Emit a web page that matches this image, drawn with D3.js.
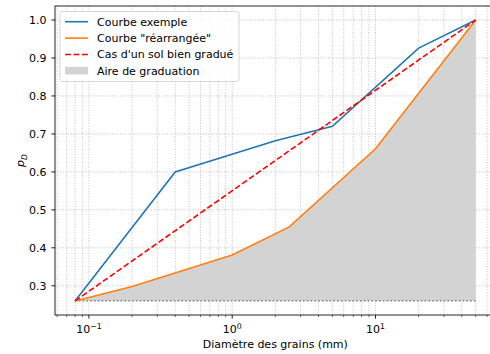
<!DOCTYPE html>
<head>
    <meta charset="utf-8">
    <style>
        body { margin: 0; background: #fff; }
        text { font-family: "DejaVu Sans", sans-serif; font-size: 11px; fill: #000; }
        .grid line { stroke: #b0b0b0; stroke-width: 0.8; stroke-dasharray: 1,1.6; }
    </style>
</head>
<body>
    <svg width="490" height="354"></svg>
    <script src="https://d3js.org/d3.v7.min.js"></script>
    <script>

    // courbe exemple
    var exempleD = [0.08, 0.4, 2, 5, 20, 50];
    var exempleP = [0.26, 0.6, 0.682, 0.72, 0.926, 1.0];
    // courbe rearrangee
    var rearrD = [0.08, 0.2, 1, 2.5, 10, 50];
    var rearrP = [0.26, 0.298, 0.381, 0.455, 0.661, 1.0];
    // sol bien gradue
    var bienD = [0.08, 50];
    var bienP = [0.26, 1.0];
    var yTicks = [0.3, 0.4, 0.5, 0.6, 0.7, 0.8, 0.9, 1.0];
    var xMajor = [0.1, 1, 10];
    var xMajorExp = ["\u22121", "0", "1"];
    var legendLabels = ["Courbe exemple", "Courbe \"réarrangée\"", "Cas d'un sol bien gradué", "Aire de graduation"];

    var svg = d3.select("svg");
    var pl = 55, pr = 495.7, pt = 6, pb = 315;

    var lo = Math.log10(0.08), hi = Math.log10(50), m = (hi - lo) * 0.05;
    var x = d3.scaleLog().domain([Math.pow(10, lo - m), Math.pow(10, hi + m)]).range([pl, pr]);
    var ylo = 0.26, yhi = 1.0, ym = (yhi - ylo) * 0.05;
    var y = d3.scaleLinear().domain([ylo - ym, yhi + ym]).range([pb, pt]);

    var xMinor = [];
    [0.01, 0.1, 1, 10].forEach(function(p) {
        for (var k = 2; k <= 9; k++) {
            var v = k * p;
            if (v >= x.domain()[0] && v <= x.domain()[1]) xMinor.push(v);
        }
    });

    svg.append("clipPath").attr("id", "clip")
        .append("rect").attr("x", pl).attr("y", pt).attr("width", pr - pl).attr("height", pb - pt);

    var plot = svg.append("g").attr("clip-path", "url(#clip)");

    // grille
    var grid = plot.append("g").attr("class", "grid");
    grid.selectAll(".gx").data(xMajor.concat(xMinor)).enter().append("line")
        .attr("x1", function(d) { return x(d); }).attr("x2", function(d) { return x(d); })
        .attr("y1", pt).attr("y2", pb);
    grid.selectAll(".gy").data(yTicks).enter().append("line")
        .attr("x1", pl).attr("x2", pr)
        .attr("y1", function(d) { return y(d); }).attr("y2", function(d) { return y(d); });

    // aire de graduation
    var rearr = rearrD.map(function(d, i) { return [d, rearrP[i]]; });
    plot.append("path")
        .datum(rearr)
        .attr("fill", "#d3d3d3")
        .attr("d", d3.area()
            .x(function(d) { return x(d[0]); })
            .y0(y(0.26))
            .y1(function(d) { return y(d[1]); }));

    plot.append("line")
        .attr("x1", x(0.08)).attr("x2", x(50))
        .attr("y1", y(0.26)).attr("y2", y(0.26))
        .attr("stroke", "#707070").attr("stroke-width", 1.2)
        .attr("stroke-dasharray", "1.6,2.2");

    var line = d3.line()
        .x(function(d) { return x(d[0]); })
        .y(function(d) { return y(d[1]); });

    plot.append("path")
        .datum(exempleD.map(function(d, i) { return [d, exempleP[i]]; }))
        .attr("fill", "none").attr("stroke", "#1f77b4").attr("stroke-width", 1.6)
        .attr("d", line);

    plot.append("path")
        .datum(rearr)
        .attr("fill", "none").attr("stroke", "#ff7f0e").attr("stroke-width", 1.6)
        .attr("d", line);

    plot.append("path")
        .datum(bienD.map(function(d, i) { return [d, bienP[i]]; }))
        .attr("fill", "none").attr("stroke", "#ff0000").attr("stroke-width", 1.6)
        .attr("stroke-dasharray", "5.9,2.6")
        .attr("d", line);

    // axes
    svg.append("rect")
        .attr("x", pl).attr("y", pt).attr("width", pr - pl).attr("height", pb - pt)
        .attr("fill", "none").attr("stroke", "#000").attr("stroke-width", 0.85);

    var yAxis = svg.append("g");
    yAxis.selectAll("line").data(yTicks).enter().append("line")
        .attr("x1", pl - 3.7).attr("x2", pl)
        .attr("y1", function(d) { return y(d); }).attr("y2", function(d) { return y(d); })
        .attr("stroke", "#000").attr("stroke-width", 0.85);
    yAxis.selectAll("text").data(yTicks).enter().append("text")
        .attr("x", pl - 8.5).attr("y", function(d) { return y(d); })
        .attr("dy", "0.36em").attr("text-anchor", "end")
        .text(function(d) { return d.toFixed(1); });

    var xAxis = svg.append("g");
    xAxis.selectAll(".maj").data(xMajor).enter().append("line")
        .attr("x1", function(d) { return x(d); }).attr("x2", function(d) { return x(d); })
        .attr("y1", pb).attr("y2", pb + 3.7)
        .attr("stroke", "#000").attr("stroke-width", 0.85);
    xAxis.selectAll(".min").data(xMinor).enter().append("line")
        .attr("x1", function(d) { return x(d); }).attr("x2", function(d) { return x(d); })
        .attr("y1", pb).attr("y2", pb + 2.1)
        .attr("stroke", "#000").attr("stroke-width", 0.6);
    var xl = xAxis.selectAll("text").data(xMajor).enter().append("text")
        .attr("x", function(d) { return x(d); }).attr("y", pb + 18)
        .attr("text-anchor", "middle");
    xl.append("tspan").text("10");
    xl.append("tspan").attr("dy", -4.5).style("font-size", "7.8px")
        .text(function(d, i) { return xMajorExp[i]; });

    svg.append("text")
        .attr("x", (pl + pr) / 2).attr("y", 348)
        .attr("text-anchor", "middle")
        .text("Diamètre des grains (mm)");

    var yl = svg.append("text")
        .attr("transform", "translate(24," + ((pt + pb) / 2) + ") rotate(-90)")
        .attr("text-anchor", "middle");
    yl.append("tspan").style("font-style", "italic").text("p");
    yl.append("tspan").attr("dy", 2.5).style("font-style", "italic").style("font-size", "7.8px").text("D");

    // legende
    var leg = svg.append("g").attr("transform", "translate(60,11.5)");
    leg.append("rect")
        .attr("width", 179).attr("height", 70).attr("rx", 2.5)
        .attr("fill", "#fff").attr("fill-opacity", 0.8)
        .attr("stroke", "#cccccc").attr("stroke-width", 0.8);
    var styles = [
        { stroke: "#1f77b4", dash: null },
        { stroke: "#ff7f0e", dash: null },
        { stroke: "#ff0000", dash: "5.9,2.6" },
        { fill: "#d3d3d3" }
    ];
    var rows = leg.selectAll(".row").data(legendLabels).enter().append("g")
        .attr("transform", function(d, i) { return "translate(0," + (10.2 + i * 16.4) + ")"; });
    rows.each(function(d, i) {
        var g = d3.select(this), s = styles[i];
        if (s.fill) {
            g.append("rect").attr("x", 5).attr("y", -4).attr("width", 23).attr("height", 7.5).attr("fill", s.fill);
        } else {
            g.append("line").attr("x1", 5).attr("x2", 28).attr("y1", 0).attr("y2", 0)
                .attr("stroke", s.stroke).attr("stroke-width", 1.6)
                .attr("stroke-dasharray", s.dash);
        }
        g.append("text").attr("x", 37).attr("dy", "0.36em").text(d);
    });
    </script>
</body>
